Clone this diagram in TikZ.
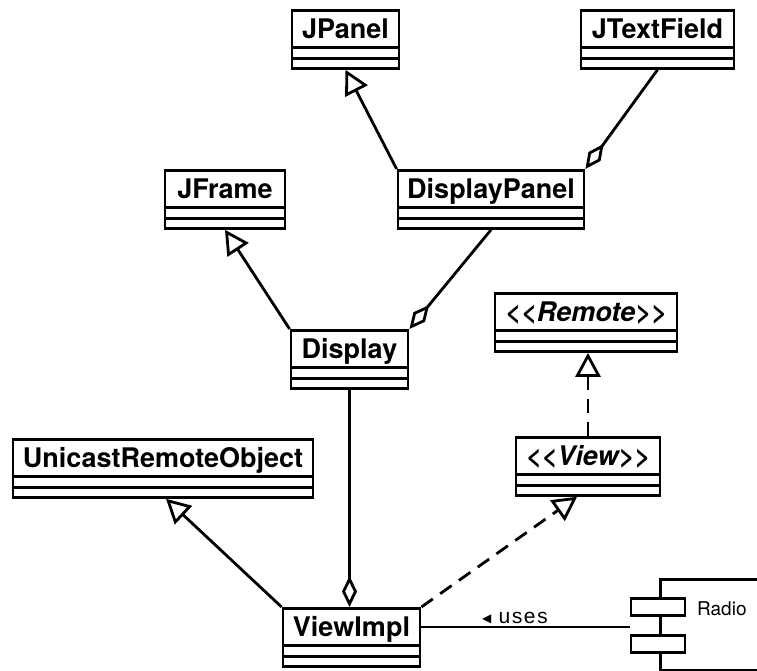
\documentclass[tikz,border=0pt]{standalone}
\usepackage{fontspec}
\setmainfont{TeX Gyre Heros}
\newfontfamily\umlmono{Liberation Mono}
\newfontfamily\umlsym{DejaVu Sans}
\usetikzlibrary{arrows.meta}

\tikzset{
  uml/.style={line width=2.8pt},
  classbox/.style={draw, line width=2.8pt, inner sep=0pt, minimum height=58pt, anchor=north},
  classname/.style={draw, line width=2.8pt, inner sep=0pt, minimum height=37pt,
    font=\fontsize{27}{30}\selectfont\bfseries, text height=19.4pt, text depth=0pt, anchor=north},
  inherit/.style={line width=2.8pt, -{Triangle[open, length=24pt, width=25pt, fill=white]}},
  realize/.style={inherit, dash pattern=on 14pt off 9pt},
  aggr/.style={line width=2.8pt, -{Diamond[open, length=31pt, width=15pt, fill=white]}},
  port/.style={draw, line width=2.8pt, fill=white, inner sep=0pt, minimum width=54pt, minimum height=17pt},
}

\newcommand\umlclass[5]{%
  \node[classbox, minimum width=#4pt] (#1) at (#2,#3) {};
  \node[classname, minimum width=#4pt] (#1-n) at (#1.north) {#5};
  \draw[uml] ([yshift=11pt]#1.south west) -- ([yshift=11pt]#1.south east);
}

\begin{document}
\begin{tikzpicture}[x=1pt,y=-1pt]
\useasboundingbox (0,0) rectangle (757,671);

\umlclass{jpanel}{345.5}{9}{107}{JPanel}
\umlclass{jtf}{657.5}{9}{153}{JTextField}
\umlclass{jframe}{225}{169}{120}{JFrame}
\umlclass{dpanel}{491}{169}{186}{DisplayPanel}
\umlclass{display}{349.5}{329}{117}{Display}
\umlclass{remote}{586}{292}{182}{\itshape <\kern0pt<Remote>\kern0pt>}
\umlclass{unicast}{163}{438}{300}{UnicastRemoteObject}
\umlclass{view}{588}{436}{144}{\itshape <\kern0pt<View>\kern0pt>}
\umlclass{viewimpl}{351.5}{607}{137}{ViewImpl}

% component
\node[draw, line width=2.8pt, inner sep=0pt, minimum width=130pt, minimum height=91pt, anchor=north west] (radio) at (659,578) {};
\node[port] (p1) at (658,607) {};
\node[port] (p2) at (658,644) {};
\node[anchor=base west, inner sep=0pt, font=\fontsize{19}{22}\selectfont] (radiolbl) at (697,615) {Radio};

% connectors
\draw[inherit] (dpanel.north west) -- (jpanel.south);
\draw[aggr] (jtf.south) -- (dpanel.north east);
\draw[inherit] (display.north west) -- (jframe.south);
\draw[aggr] (dpanel.south) -- (display.north east);
\draw[realize] (view.north) -- (view.north |- remote.south);
\draw[aggr] (display.south) -- (display.south |- viewimpl.north);
\draw[inherit] (viewimpl.north west) -- ([xshift=3pt]unicast.south);
\draw[realize] (viewimpl.north east) -- ([xshift=-11pt]view.south);

\coordinate (usesy) at (0,627);
\draw[uml] (viewimpl.east |- usesy) -- (p1.west |- usesy);
\node[anchor=base west, inner sep=0pt, font=\umlsym\fontsize{12}{12}\selectfont] (usestri) at (482,622) {◀};
\node[anchor=base west, inner sep=0pt, font=\umlmono\fontsize{21}{22}\selectfont] (usestxt) at (498,623) {uses};
\end{tikzpicture}
\end{document}
